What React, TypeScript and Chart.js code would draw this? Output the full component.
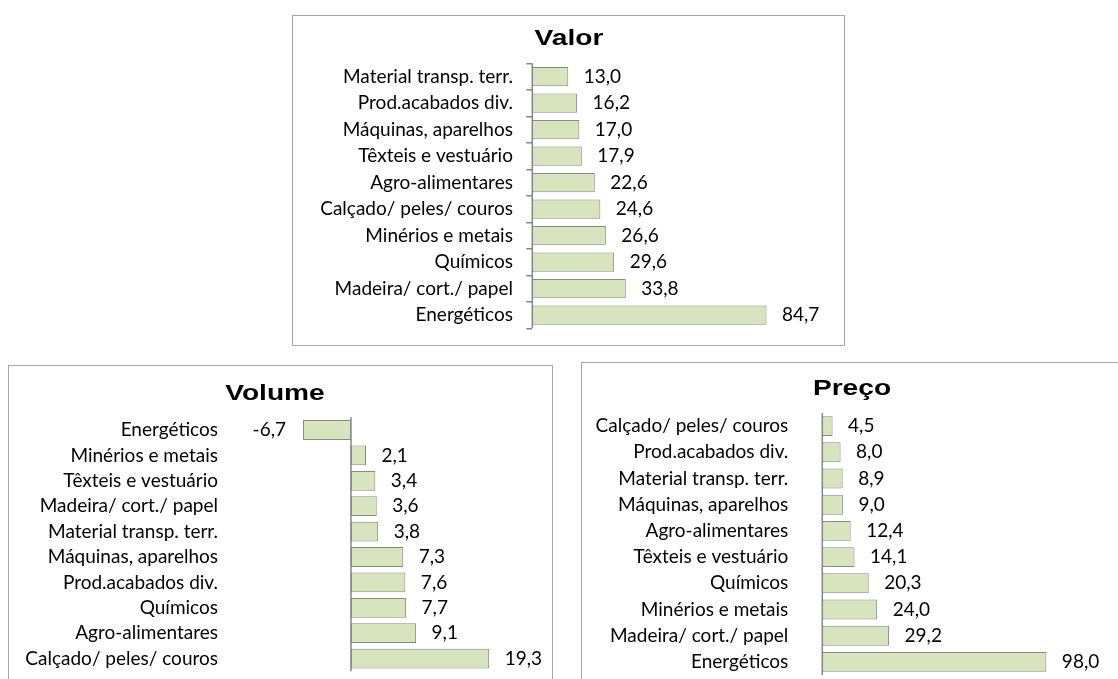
import React, { useEffect, useRef } from "react";
import { Chart, registerables } from "chart.js";

Chart.register(...registerables);

// ---------- data ----------
const valorLabels = [
  "Material transp. terr.",
  "Prod.acabados div.",
  "Máquinas, aparelhos",
  "Têxteis e vestuário",
  "Agro-alimentares",
  "Calçado/ peles/ couros",
  "Minérios e metais",
  "Químicos",
  "Madeira/ cort./ papel",
  "Energéticos",
];
const valorValues = [13.0, 16.2, 17.0, 17.9, 22.6, 24.6, 26.6, 29.6, 33.8, 84.7];

const volumeLabels = [
  "Energéticos",
  "Minérios e metais",
  "Têxteis e vestuário",
  "Madeira/ cort./ papel",
  "Material transp. terr.",
  "Máquinas, aparelhos",
  "Prod.acabados div.",
  "Químicos",
  "Agro-alimentares",
  "Calçado/ peles/ couros",
];
const volumeValues = [-6.7, 2.1, 3.4, 3.6, 3.8, 7.3, 7.6, 7.7, 9.1, 19.3];

const precoLabels = [
  "Calçado/ peles/ couros",
  "Prod.acabados div.",
  "Material transp. terr.",
  "Máquinas, aparelhos",
  "Agro-alimentares",
  "Têxteis e vestuário",
  "Químicos",
  "Minérios e metais",
  "Madeira/ cort./ papel",
  "Energéticos",
];
const precoValues = [4.5, 8.0, 8.9, 9.0, 12.4, 14.1, 20.3, 24.0, 29.2, 98.0];

// ---------- styles ----------
const FILL = "#d7e4bd";
const EDGE = "#888888";
const AXIS = "#868686";
const LABEL_FONT = "Lato";
const TITLE_FONT = "'Liberation Sans', Arial, sans-serif";
const LABEL_SIZE = 19;
const TITLE_SIZE = 22.5;
const TITLE_STRETCH = 1.25;

const fmt = (v: number) => v.toFixed(1).replace(".", ",");

type Cfg = {
  title: string;
  labels: string[];
  values: number[];
  box: { left: number; top: number; width: number; height: number };
  min: number;
  max: number;
  axisWidth: number;
  labelPad: number;
  pad: { top: number; bottom: number; right: number };
  titleX: number;
  titleY: number;
  ticks: boolean;
  gap: number;
  negGap: number;
  barPct: number;
};

const overlayPlugin = {
  id: "overlay",
  afterDatasetsDraw(chart: any, _args: any, opts: any) {
    const ctx = chart.ctx;
    const xs = chart.scales.x;
    const area = chart.chartArea;
    const zero = xs.getPixelForValue(0);
    ctx.save();
    ctx.strokeStyle = AXIS;
    ctx.lineWidth = 1.5;
    ctx.beginPath();
    ctx.moveTo(zero, area.top);
    ctx.lineTo(zero, area.bottom);
    ctx.stroke();

    const meta = chart.getDatasetMeta(0);
    const data = chart.data.datasets[0].data as number[];
    ctx.font = `${LABEL_SIZE}px ${LABEL_FONT}`;
    ctx.fillStyle = "#000";
    ctx.textBaseline = "middle";
    meta.data.forEach((el: any, i: number) => {
      const v = data[i];
      if (v >= 0) {
        ctx.textAlign = "left";
        ctx.fillText(fmt(v), el.x + opts.gap, el.y);
      } else {
        ctx.textAlign = "right";
        ctx.fillText(fmt(v), el.x - opts.negGap, el.y);
      }
    });
    ctx.restore();

    ctx.save();
    ctx.font = `bold ${TITLE_SIZE}px ${TITLE_FONT}`;
    ctx.fillStyle = "#000";
    ctx.textAlign = "center";
    ctx.textBaseline = "alphabetic";
    ctx.translate(opts.titleX, opts.titleY);
    ctx.scale(TITLE_STRETCH, 1);
    ctx.fillText(opts.title, 0, 0);
    ctx.restore();
  },
};

function BarPanel({ cfg }: { cfg: Cfg }) {
  const ref = useRef<HTMLCanvasElement | null>(null);
  useEffect(() => {
    if (!ref.current) return;
    const chart = new Chart(ref.current, {
      type: "bar",
      data: {
        labels: cfg.labels,
        datasets: [
          {
            data: cfg.values,
            backgroundColor: FILL,
            borderColor: EDGE,
            borderWidth: 1,
            borderSkipped: false,
            categoryPercentage: 1,
            barPercentage: cfg.barPct,
          },
        ],
      },
      options: {
        indexAxis: "y",
        responsive: false,
        animation: false,
        layout: {
          padding: { left: 0, top: cfg.pad.top, bottom: cfg.pad.bottom, right: cfg.pad.right },
        },
        plugins: {
          legend: { display: false },
          tooltip: { enabled: false },
          title: { display: false },
          overlay: {
            gap: cfg.gap,
            negGap: cfg.negGap,
            title: cfg.title,
            titleX: cfg.titleX,
            titleY: cfg.titleY,
          },
        } as any,
        scales: {
          x: {
            display: false,
            min: cfg.min,
            max: cfg.max,
          },
          y: {
            offset: true,
            border: { display: false },
            grid: {
              display: cfg.ticks,
              drawOnChartArea: false,
              drawTicks: true,
              tickLength: 6,
              offset: true,
              color: AXIS,
              lineWidth: 1.5,
            },
            ticks: {
              padding: cfg.labelPad,
              color: "#000",
              font: { family: LABEL_FONT, size: LABEL_SIZE },
              autoSkip: false,
            },
            afterFit: (scale: any) => {
              scale.width = cfg.axisWidth;
              scale.paddingTop = 0;
              scale.paddingBottom = 0;
            },
          },
        },
      },
      plugins: [overlayPlugin],
    });
    return () => chart.destroy();
  }, [cfg]);

  const { box } = cfg;
  return (
    <div
      style={{
        position: "absolute",
        left: box.left,
        top: box.top,
        width: box.width - 2,
        height: box.height - 2,
        border: "1px solid #a6a6a6",
        background: "#fff",
      }}
    >
      <canvas
        ref={ref}
        width={box.width - 2}
        height={box.height - 2}
        style={{ display: "block", width: box.width - 2, height: box.height - 2 }}
      />
    </div>
  );
}

const valorCfg: Cfg = {
  title: "Valor",
  labels: valorLabels,
  values: valorValues,
  box: { left: 292, top: 15, width: 553, height: 331 },
  min: 0,
  max: 100,
  axisWidth: 239.3,
  labelPad: 13.4,
  pad: { top: 47.3, bottom: 16.7, right: 35.2 },
  titleX: 276,
  titleY: 29,
  ticks: true,
  gap: 15.5,
  negGap: 17,
  barPct: 0.73,
};

const volumeCfg: Cfg = {
  title: "Volume",
  labels: volumeLabels,
  values: volumeValues,
  box: { left: 8, top: 365, width: 545, height: 330 },
  min: -16,
  max: 26,
  axisWidth: 227.4,
  labelPad: 12.4,
  pad: { top: 51.3, bottom: 22.7, right: 14.9 },
  titleX: 266,
  titleY: 34,
  ticks: false,
  gap: 15.5,
  negGap: 17,
  barPct: 0.78,
};

const precoCfg: Cfg = {
  title: "Preço",
  labels: precoLabels,
  values: precoValues,
  box: { left: 581, top: 362, width: 542, height: 333 },
  min: 0,
  max: 110,
  axisWidth: 240.3,
  labelPad: 28,
  pad: { top: 50, bottom: 19, right: 48.2 },
  titleX: 270,
  titleY: 32,
  ticks: false,
  gap: 15.5,
  negGap: 17,
  barPct: 0.76,
};

export default function App() {
  return (
    <div
      style={{
        position: "fixed",
        left: 0,
        top: 0,
        width: 1118,
        height: 679,
        overflow: "hidden",
        background: "#fff",
      }}
    >
      <BarPanel cfg={valorCfg} />
      <BarPanel cfg={volumeCfg} />
      <BarPanel cfg={precoCfg} />
    </div>
  );
}
